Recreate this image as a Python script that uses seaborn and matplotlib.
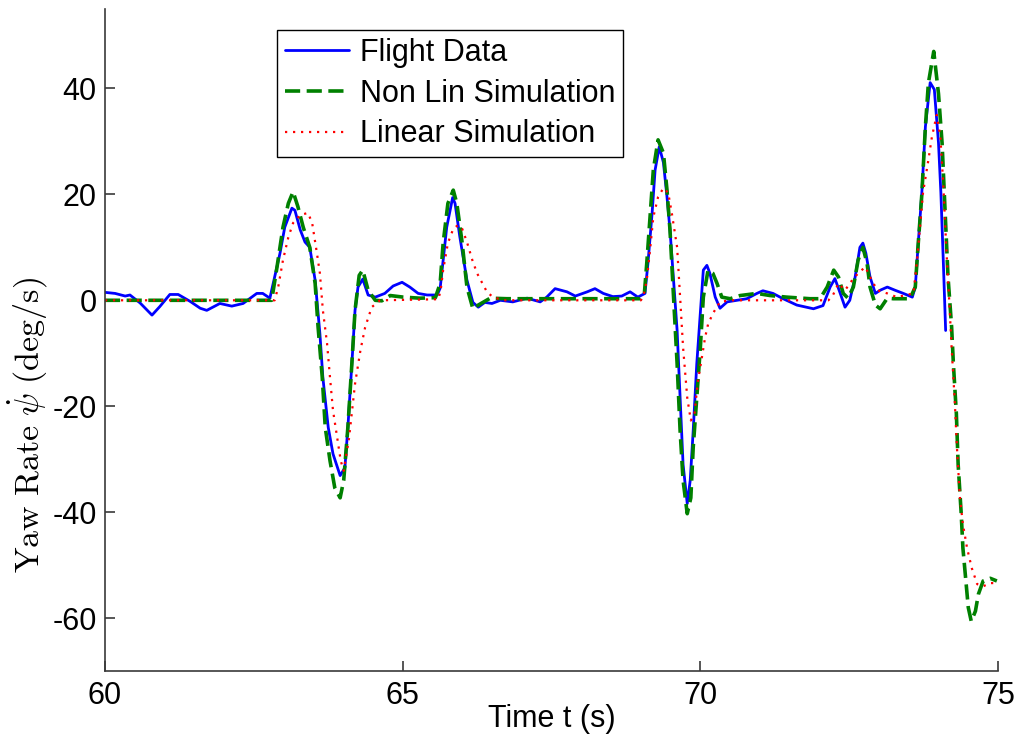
import matplotlib
matplotlib.use('Agg')
import matplotlib.pyplot as plt
import seaborn as sns
import pandas as pd

# Flight data (time in s, yaw rate in deg/s)
flight_t = [60.0, 60.17, 60.34, 60.42, 60.59, 60.79, 60.92, 61.09, 61.23, 61.43,
            61.6, 61.71, 61.93, 62.13, 62.32, 62.55, 62.65, 62.77, 62.94, 63.02,
            63.14, 63.19, 63.28, 63.36, 63.44, 63.53, 63.61, 63.66, 63.75, 63.83,
            63.95, 64.03, 64.08, 64.15, 64.2, 64.25, 64.33, 64.42, 64.54, 64.7,
            64.84, 64.99, 65.12, 65.26, 65.41, 65.58, 65.63, 65.68, 65.74, 65.84,
            65.88, 65.96, 66.08, 66.18, 66.27, 66.38, 66.5, 66.64, 66.85, 67.09,
            67.31, 67.42, 67.56, 67.76, 67.9, 68.1, 68.23, 68.37, 68.53, 68.68,
            68.82, 68.95, 69.07, 69.12, 69.19, 69.24, 69.31, 69.38, 69.44, 69.49,
            69.55, 69.61, 69.66, 69.71, 69.78, 69.83, 69.88, 69.94, 70.0, 70.05,
            70.11, 70.16, 70.25, 70.33, 70.45, 70.62, 70.78, 70.95, 71.05, 71.22,
            71.39, 71.62, 71.9, 72.06, 72.18, 72.26, 72.35, 72.43, 72.51, 72.6,
            72.68, 72.73, 72.78, 72.85, 72.94, 73.02, 73.14, 73.27, 73.41, 73.56,
            73.61, 73.66, 73.72, 73.78, 73.86, 73.93, 74.0, 74.04, 74.08, 74.12]
flight_y = [1.5, 1.3, 0.8, 1.0, -0.5, -2.8, -1.2, 1.1, 1.1, -0.2,
            -1.5, -1.9, -0.6, -1.1, -0.6, 1.3, 1.3, 0.4, 8.9, 13.8,
            17.4, 17.0, 13.3, 11.0, 10.0, 3.8, -6.3, -14.6, -24.0, -29.0,
            -33.1, -31.6, -24.0, -11.4, -1.9, 2.5, 4.0, 1.0, 0.6, 1.3,
            2.7, 3.4, 2.5, 1.3, 1.0, 1.0, 2.3, 7.6, 13.8, 19.4,
            18.3, 12.0, 3.8, -0.4, -1.3, -0.4, -0.6, 0.0, -0.3, 0.4,
            -0.3, 0.6, 2.2, 1.6, 0.8, 1.6, 2.2, 1.3, 0.7, 0.8,
            1.6, 0.6, 1.3, 7.0, 16.5, 24.6, 29.0, 26.0, 19.5, 13.3,
            3.8, -5.7, -18.4, -31.0, -38.4, -34.0, -24.6, -12.0, -2.5, 5.7,
            6.6, 5.1, 0.6, -1.5, -0.3, 0.0, 0.3, 1.3, 1.8, 1.3,
            0.3, -0.9, -1.6, -1.0, 2.5, 4.1, 1.3, -1.3, 0.0, 4.4,
            10.0, 10.8, 8.9, 4.4, 1.3, 1.9, 2.5, 1.9, 1.3, 0.6,
            2.5, 10.8, 20.3, 32.8, 41.1, 39.8, 29.7, 20.3, 7.6, -5.7]

# Non linear simulation
nonlin_t = [60.0, 62.8, 62.89, 62.99, 63.08, 63.16, 63.24, 63.33, 63.44, 63.53,
            63.58, 63.65, 63.7, 63.78, 63.86, 63.95, 64.01, 64.08, 64.15, 64.2,
            64.27, 64.33, 64.42, 64.54, 64.65, 64.79, 65.01, 65.29, 65.55, 65.63,
            65.68, 65.76, 65.85, 65.91, 66.0, 66.08, 66.18, 66.27, 66.47, 66.75,
            69.0, 69.06, 69.1, 69.16, 69.21, 69.29, 69.38, 69.44, 69.49, 69.55,
            69.61, 69.66, 69.71, 69.78, 69.84, 69.88, 69.94, 70.0, 70.05, 70.13,
            70.21, 70.28, 70.36, 70.5, 70.67, 70.95, 71.17, 71.45, 71.84, 72.01,
            72.13, 72.24, 72.32, 72.4, 72.48, 72.57, 72.65, 72.73, 72.8, 72.85,
            72.94, 73.02, 73.14, 73.24, 73.52, 73.61, 73.66, 73.72, 73.78, 73.83,
            73.92, 74.0, 74.06, 74.11, 74.16, 74.22, 74.25, 74.3, 74.33, 74.38,
            74.41, 74.46, 74.5, 74.55, 74.62, 74.67, 74.75, 74.87, 74.98]
nonlin_y = [0.0, 0.0, 6.3, 13.8, 18.3, 20.5, 17.7, 13.8, 10.0, 3.2,
            -5.1, -14.6, -24.0, -30.3, -35.4, -37.3, -34.0, -24.0, -11.4, -1.9,
            4.7, 5.7, 1.9, 0.0, -0.1, 0.9, 0.6, 0.4, 0.5, 3.2,
            10.8, 18.3, 20.8, 18.3, 10.8, 2.5, -1.6, -0.9, 0.4, 0.3,
            0.3, 1.3, 7.0, 16.5, 24.6, 30.3, 27.8, 20.8, 13.3, 0.6,
            -12.0, -24.6, -34.0, -40.3, -37.3, -27.8, -18.4, -8.9, 0.6, 5.7,
            5.1, 3.2, 0.6, 0.3, 0.9, 1.3, 0.9, 0.6, 0.3, 0.3,
            2.5, 5.7, 4.4, 1.3, 0.4, 2.5, 7.6, 10.0, 7.0, 2.5,
            -0.9, -1.6, 0.4, 0.3, 0.3, 2.5, 10.8, 20.0, 32.8, 41.0,
            47.0, 39.0, 29.7, 17.0, 4.4, -5.0, -12.0, -21.4, -31.0, -40.0,
            -46.8, -53.0, -58.0, -60.6, -58.7, -55.5, -53.0, -52.5, -53.0]

# Linear simulation
lin_t = [60.0, 62.85, 62.91, 62.99, 63.08, 63.16, 63.28, 63.41, 63.48, 63.56,
         63.61, 63.66, 63.73, 63.78, 63.83, 63.9, 63.96, 64.01, 64.1, 64.2,
         64.29, 64.37, 64.48, 64.62, 65.6, 65.64, 65.68, 65.76, 65.85, 65.93,
         66.0, 66.08, 66.17, 66.25, 66.33, 66.42, 66.52, 66.7, 69.0, 69.04,
         69.1, 69.16, 69.21, 69.29, 69.38, 69.46, 69.52, 69.61, 69.66, 69.71,
         69.78, 69.84, 69.9, 69.96, 70.03, 70.08, 70.13, 70.21, 70.33, 70.5,
         72.15, 72.22, 72.32, 72.43, 72.55, 72.65, 72.77, 72.88, 72.97, 73.14,
         73.3, 73.58, 73.64, 73.69, 73.74, 73.83, 73.89, 73.97, 74.03, 74.08,
         74.13, 74.18, 74.22, 74.27, 74.31, 74.36, 74.41, 74.48, 74.56, 74.65,
         74.75, 74.87, 74.98]
lin_y = [0.0, 0.0, 2.5, 7.6, 11.9, 14.6, 16.1, 16.5, 14.6, 8.9,
         5.1, -1.9, -8.1, -14.6, -20.8, -25.9, -30.3, -32.2, -26.0, -15.8,
         -9.5, -5.1, -1.3, 0.0, 0.2, 2.0, 5.7, 10.8, 13.5, 14.2,
         13.5, 11.0, 7.6, 5.1, 3.4, 1.5, 0.6, 0.0, 0.0, 0.6,
         3.8, 10.0, 15.7, 19.5, 21.2, 20.3, 16.5, 10.0, 0.6, -8.9,
         -18.4, -22.7, -21.5, -15.2, -10.5, -7.0, -4.5, -2.5, -0.3, 0.0,
         0.0, 0.8, 3.2, 1.9, 3.8, 5.1, 6.3, 3.8, 1.9, 1.3,
         0.6, 1.3, 7.6, 13.8, 20.3, 26.5, 30.9, 35.0, 31.0, 22.0,
         10.0, 0.0, -8.9, -18.4, -27.8, -37.3, -42.3, -46.8, -50.6, -53.6,
         -54.0, -53.4, -53.4]

x_ticks = [60, 65, 70, 75]
y_ticks = [-60, -40, -20, 0, 20, 40]

df_flight = pd.DataFrame({'t': flight_t, 'r': flight_y})
df_nonlin = pd.DataFrame({'t': nonlin_t, 'r': nonlin_y})
df_lin = pd.DataFrame({'t': lin_t, 'r': lin_y})

sns.set_style('ticks')
plt.rcParams['font.family'] = ['Liberation Sans', 'DejaVu Sans']
plt.rcParams['mathtext.fontset'] = 'cm'
plt.rcParams['axes.unicode_minus'] = False
plt.rcParams['text.color'] = 'black'
plt.rcParams['axes.labelcolor'] = 'black'

fig, ax = plt.subplots(figsize=(10.23, 7.53), dpi=100)
fig.subplots_adjust(left=0.1026, right=0.9756, top=0.988, bottom=0.1089)

sns.lineplot(data=df_flight, x='t', y='r', ax=ax, color='#0000ff', lw=2.0,
             label='Flight Data', estimator=None, sort=False)
sns.lineplot(data=df_nonlin, x='t', y='r', ax=ax, color='#008000', lw=2.6,
             linestyle=(0, (4.2, 1.8)), label='Non Lin Simulation',
             estimator=None, sort=False)
sns.lineplot(data=df_lin, x='t', y='r', ax=ax, color='#ff0000', lw=1.6,
             linestyle=(0, (1, 2.6)), label='Linear Simulation',
             estimator=None, sort=False)

ax.set_xlim(60, 75)
ax.set_ylim(-70, 55)
ax.set_xticks(x_ticks)
ax.set_yticks(y_ticks)
sns.despine(ax=ax)
for s in ['left', 'bottom']:
    ax.spines[s].set_color('#3a3a3a')
    ax.spines[s].set_linewidth(1.2)
ax.tick_params(direction='in', length=7, width=1.2, color='#3a3a3a',
               labelcolor='black', labelsize=22)
ax.tick_params(axis='y', pad=6)
ax.tick_params(axis='x', pad=7)

ax.set_xlabel('Time t (s)', fontsize=22)
ax.set_ylabel(r'$\mathrm{Yaw\ Rate}\ \dot{\psi}\ \mathrm{(deg/s)}$', fontsize=24.5)
ax.xaxis.set_label_coords(0.5, -0.05)
ax.yaxis.set_label_coords(-0.062, 0.372)

leg = ax.legend(loc='upper left', bbox_to_anchor=(0.193, 0.968), borderaxespad=0,
                fontsize=22, frameon=True, fancybox=False, edgecolor='black',
                framealpha=1, handlelength=2.1, handletextpad=0.35,
                labelspacing=0.35, borderpad=0.25)
leg.get_frame().set_linewidth(1.0)

fig.savefig('out.png', dpi=100)
